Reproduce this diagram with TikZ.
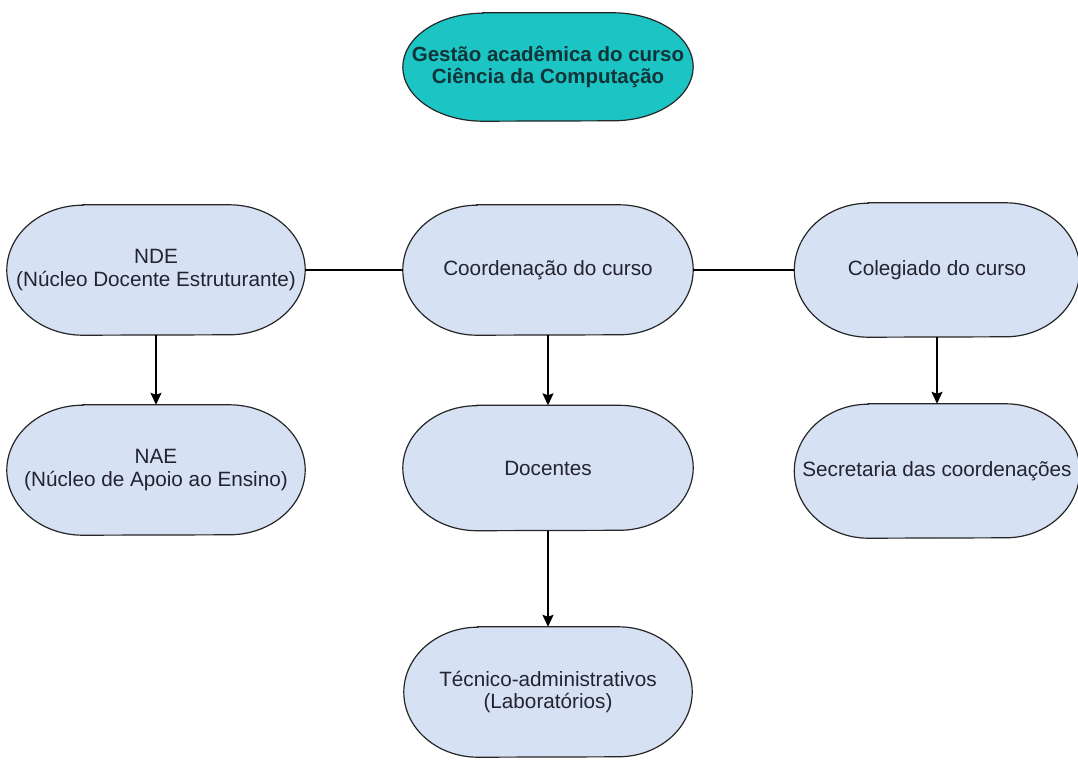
\documentclass[tikz,border=0pt]{standalone}
\usepackage{fontspec}
\setmainfont{Liberation Sans}
\usetikzlibrary{arrows.meta,calc}
\definecolor{boxfill}{RGB}{214,225,243}
\definecolor{topfill}{RGB}{28,196,196}
\definecolor{txt}{RGB}{34,36,48}
\definecolor{toptxt}{RGB}{16,52,56}
\pgfdeclarelayer{background}
\pgfsetlayers{background,main}
\tikzset{
  pill/.style={rectangle, minimum width=290pt, minimum height=130pt,
    inner sep=0pt, align=center, text=txt,
    font=\fontsize{20.7pt}{22.5pt}\selectfont},
  toppill/.style={pill, minimum height=108pt,
    text=toptxt, font=\fontsize{20.5pt}{22.5pt}\selectfont\bfseries},
  pillline/.style={draw=black!85, line width=1.2pt},
  link/.style={draw=black, line width=1.3pt},
  arr/.style={link, -{Stealth[length=12pt,width=11pt,inset=2pt]}}
}
% #1 node name, #2 horizontal corner radius (pt), #3 half height (pt), #4 fill colour
\newcommand\pillbg[4]{%
  \path[pillline, fill=#4]
    ($(#1.north west)+(#2pt,0)$) -- ($(#1.north east)+(-#2pt,0)$)
    arc[start angle=90, end angle=-90, x radius=#2pt, y radius=#3pt]
    -- ($(#1.south west)+(#2pt,0)$)
    arc[start angle=270, end angle=90, x radius=#2pt, y radius=#3pt]
    -- cycle;}
\begin{document}
\begin{tikzpicture}[x=1pt,y=-1pt]
\useasboundingbox (0,0) rectangle (1078,760);
\node[toppill] (top) at (548,67) {Gestão acadêmica do curso\\Ciência da Computação};
\node[pill, minimum width=298pt] (nde) at (156,270) {NDE\\(Núcleo Docente Estruturante)};
\node[pill] (coord) at (548,270) {Coordenação do curso};
\node[pill, minimum width=285pt, minimum height=134pt] (coleg) at (937,270) {Colegiado do curso};
\node[pill, minimum width=298pt] (nae) at (156,470) {NAE\\(Núcleo de Apoio ao Ensino)};
\node[pill, minimum height=125pt] (doc) at (548,468) {Docentes};
\node[pill, minimum width=285pt, minimum height=134pt] (sec) at (937,471) {Secretaria das coordenações};
\node[pill, minimum width=288pt] (tec) at (548,692) {Técnico-administrativos\\(Laboratórios)};
\begin{pgfonlayer}{background}
  \pillbg{top}{80}{54}{topfill}
  \pillbg{nde}{76}{65}{boxfill}
  \pillbg{coord}{74}{65}{boxfill}
  \pillbg{coleg}{74}{67}{boxfill}
  \pillbg{nae}{76}{65}{boxfill}
  \pillbg{doc}{74}{62.5}{boxfill}
  \pillbg{sec}{74}{67}{boxfill}
  \pillbg{tec}{74}{65}{boxfill}
\end{pgfonlayer}
\draw[link] (nde.east) -- (coord.west);
\draw[link] (coord.east) -- (coleg.west);
\draw[arr] (nde.south) -- (nae.north);
\draw[arr] (coord.south) -- (doc.north);
\draw[arr] (coleg.south) -- (sec.north);
\draw[arr] (doc.south) -- (tec.north);
\end{tikzpicture}
\end{document}
